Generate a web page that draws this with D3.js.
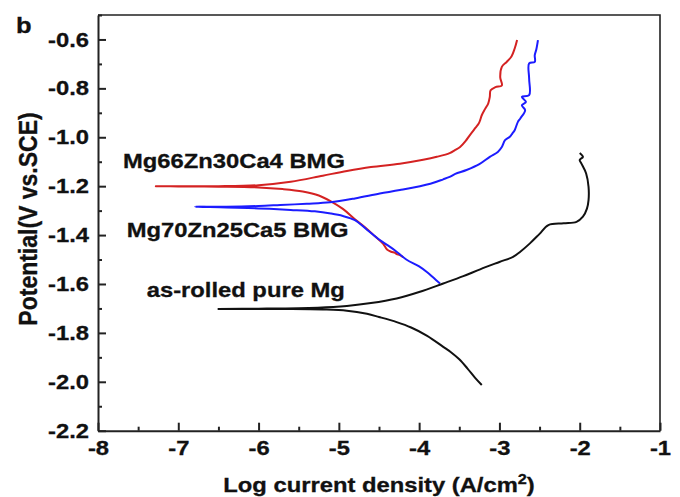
<!DOCTYPE html>
<html>
<head>
<meta charset="utf-8">
<script src="https://cdn.jsdelivr.net/npm/d3@7"></script>
<style>
  body { margin: 0; background: #fff; }
  svg text { font-family: Arial, "Liberation Sans", Helvetica, sans-serif; font-weight: bold; fill: #111; stroke: #111; stroke-width: 0.3px; }
</style>
</head>
<body>
<div id="chart"></div>
<script>
// log current density (A/cm2) vs potential (V vs. SCE)
// each curve: cathodic branch (end -> Ecorr) then anodic branch
var mg66 = [
  [-4.20,-1.490],[-4.24,-1.482],[-4.28,-1.478],[-4.30,-1.473],[-4.35,-1.468],[-4.40,-1.459],
  [-4.45,-1.435],[-4.55,-1.405],[-4.65,-1.375],[-4.80,-1.335],[-4.95,-1.293],[-5.10,-1.262],
  [-5.25,-1.238],[-5.45,-1.222],[-5.70,-1.212],[-6.00,-1.205],[-6.50,-1.202],[-7.00,-1.201],
  [-7.28,-1.200],
  [-7.00,-1.200],[-6.50,-1.200],[-6.00,-1.196],[-5.60,-1.182],[-5.20,-1.157],[-4.90,-1.138],
  [-4.60,-1.122],[-4.24,-1.108],[-3.95,-1.092],[-3.78,-1.080],[-3.62,-1.065],[-3.55,-1.052],
  [-3.49,-1.040],[-3.42,-1.015],[-3.37,-0.992],[-3.30,-0.962],[-3.26,-0.945],[-3.24,-0.930],
  [-3.22,-0.910],[-3.18,-0.885],[-3.14,-0.862],[-3.12,-0.835],[-3.11,-0.808],[-3.05,-0.795],
  [-2.97,-0.788],[-2.99,-0.755],[-2.97,-0.712],[-2.91,-0.692],[-2.85,-0.670],[-2.81,-0.637],
  [-2.78,-0.602]
];
var mg70 = [
  [-3.74,-1.598],[-3.82,-1.575],[-3.90,-1.552],[-4.00,-1.528],[-4.16,-1.500],[-4.30,-1.463],
  [-4.40,-1.440],[-4.49,-1.420],[-4.65,-1.378],[-4.80,-1.339],[-4.95,-1.322],[-5.10,-1.312],
  [-5.30,-1.303],[-5.60,-1.297],[-6.00,-1.291],[-6.40,-1.287],[-6.79,-1.284],
  [-6.40,-1.284],[-6.00,-1.281],[-5.73,-1.277],[-5.40,-1.272],[-5.11,-1.266],[-4.80,-1.250],
  [-4.49,-1.230],[-4.24,-1.216],[-3.86,-1.190],[-3.70,-1.172],[-3.62,-1.162],[-3.55,-1.150],
  [-3.41,-1.134],[-3.25,-1.110],[-3.12,-1.080],[-3.02,-1.060],[-2.97,-1.040],[-2.93,-1.012],
  [-2.87,-0.998],[-2.84,-0.985],[-2.81,-0.971],[-2.77,-0.937],[-2.74,-0.923],[-2.68,-0.889],
  [-2.72,-0.869],[-2.67,-0.855],[-2.72,-0.835],[-2.63,-0.828],[-2.63,-0.760],[-2.63,-0.698],
  [-2.56,-0.692],[-2.56,-0.664],[-2.54,-0.640],[-2.52,-0.603]
];
var pureMg = [
  [-3.22,-2.013],[-3.30,-1.985],[-3.40,-1.945],[-3.50,-1.908],[-3.60,-1.880],[-3.70,-1.857],
  [-3.90,-1.812],[-4.10,-1.778],[-4.28,-1.756],[-4.50,-1.735],[-4.65,-1.722],[-4.90,-1.709],
  [-5.20,-1.704],[-5.60,-1.702],[-6.00,-1.702],[-6.50,-1.702],
  [-6.00,-1.701],[-5.50,-1.699],[-5.07,-1.694],[-4.90,-1.690],[-4.60,-1.678],[-4.28,-1.659],
  [-4.00,-1.633],[-3.70,-1.598],[-3.45,-1.568],[-3.24,-1.540],[-3.00,-1.510],[-2.83,-1.489],
  [-2.74,-1.468],[-2.62,-1.434],[-2.50,-1.395],[-2.39,-1.359],[-2.20,-1.352],[-2.04,-1.346],
  [-1.96,-1.325],[-1.91,-1.292],[-1.89,-1.257],[-1.89,-1.203],[-1.92,-1.148],[-1.98,-1.107],
  [-2.00,-1.093],[-1.96,-1.080],[-2.00,-1.064]
];

var seriesNames = ["Mg66Zn30Ca4 BMG", "Mg70Zn25Ca5 BMG", "as-rolled pure Mg"];
var xTicks = [-8, -7, -6, -5, -4, -3, -2, -1];
var yTicks = [-2.2, -2.0, -1.8, -1.6, -1.4, -1.2, -1.0, -0.8, -0.6];

var W = 680, H = 497;
var mLeft = 98, mRight = 660, mTop = 15, mBottom = 430.7;
var stretch = 1.16; // the figure's lettering is a bit wide

var svg = d3.select("#chart").append("svg").attr("width", W).attr("height", H);

var x = d3.scaleLinear().domain([-8, -1]).range([mLeft, mRight]);
var y = d3.scaleLinear().domain([-2.2, -0.5]).range([mBottom, mTop]);

// hyphen minus like the original, not the unicode minus
var fx = function(v){ return String(v); };
var fy = function(v){ return v.toFixed(1); };

// frame (top + right)
svg.append("path")
  .attr("d", "M" + mLeft + "," + mTop + "H" + mRight + "V" + mBottom)
  .attr("fill", "none").attr("stroke", "#222").attr("stroke-width", 1.6);

// minor ticks
var xMinor = xTicks.slice(0, -1).map(function(v){ return v + 0.5; });
var yMinor = yTicks.slice(0, -1).map(function(v){ return v + 0.1; });
yMinor.push(-0.5);

svg.append("g").attr("transform", "translate(0," + mBottom + ")")
  .call(d3.axisBottom(x).tickValues(xMinor).tickSize(-4).tickFormat(""))
  .call(function(g){ g.select(".domain").remove(); });
svg.append("g").attr("transform", "translate(" + mLeft + ",0)")
  .call(d3.axisLeft(y).tickValues(yMinor).tickSize(-4).tickFormat(""))
  .call(function(g){ g.select(".domain").remove(); });

// major axes
var gx = svg.append("g").attr("transform", "translate(0," + mBottom + ")")
  .call(d3.axisBottom(x).tickValues(xTicks).tickSizeInner(-8).tickSizeOuter(0).tickPadding(10)
    .tickFormat(fx));
var gy = svg.append("g").attr("transform", "translate(" + mLeft + ",0)")
  .call(d3.axisLeft(y).tickValues(yTicks).tickSizeInner(-8).tickSizeOuter(0).tickPadding(9)
    .tickFormat(fy));

[gx, gy].forEach(function(g){
  g.selectAll("path").attr("stroke", "#222").attr("stroke-width", 2);
  g.selectAll("text").attr("font-size", 20.5).attr("fill", "#111")
    .style("font-family", "Arial, 'Liberation Sans', sans-serif").style("font-weight", "bold");
});
svg.selectAll("g line").attr("stroke", "#222").attr("stroke-width", 2);
gx.selectAll("text").attr("transform", "scale(" + stretch + ",1)");
gy.selectAll("text").attr("x", -9 / stretch).attr("transform", "scale(" + stretch + ",1)");

// curves
var line = d3.line()
  .curve(d3.curveCatmullRom.alpha(0.5))
  .x(function(d){ return x(d[0]); })
  .y(function(d){ return y(d[1]); });
var curves = [
  {data: mg66, color: "#d42222"},
  {data: mg70, color: "#1c1cff"},
  {data: pureMg, color: "#111111"}
];
svg.selectAll(".curve").data(curves).enter().append("path")
  .attr("class", "curve")
  .attr("d", function(d){ return line(d.data); })
  .attr("fill", "none")
  .attr("stroke", function(d){ return d.color; })
  .attr("stroke-width", 2)
  .attr("stroke-linejoin", "round");

// curve labels
var labelPos = [[123, 168], [126.7, 236.7], [146.7, 296.7]];
svg.selectAll(".lbl").data(seriesNames).enter().append("text")
  .attr("class", "lbl")
  .attr("transform", function(d, i){ return "translate(" + labelPos[i][0] + "," + labelPos[i][1] + ") scale(" + stretch + ",1)"; })
  .attr("font-size", 20.5)
  .text(function(d){ return d; });

// panel letter
svg.append("text").attr("transform", "translate(16,33) scale(" + stretch + ",1)")
  .attr("font-size", 22).text("b");

// x title
var xt = svg.append("text")
  .attr("transform", "translate(" + ((mLeft + mRight) / 2) + ",491.5) scale(" + stretch + ",1)")
  .attr("text-anchor", "middle").attr("font-size", 20.5);
xt.append("tspan").text("Log current density (A/cm");
xt.append("tspan").attr("font-size", 14).attr("dy", -8).text("2");
xt.append("tspan").attr("dy", 8).text(")");

// y title
svg.append("text")
  .attr("transform", "translate(36.5,219) rotate(-90) scale(1," + stretch + ")")
  .attr("text-anchor", "middle").attr("font-size", 23)
  .text("Potential(V vs.SCE)");
</script>
</body>
</html>
